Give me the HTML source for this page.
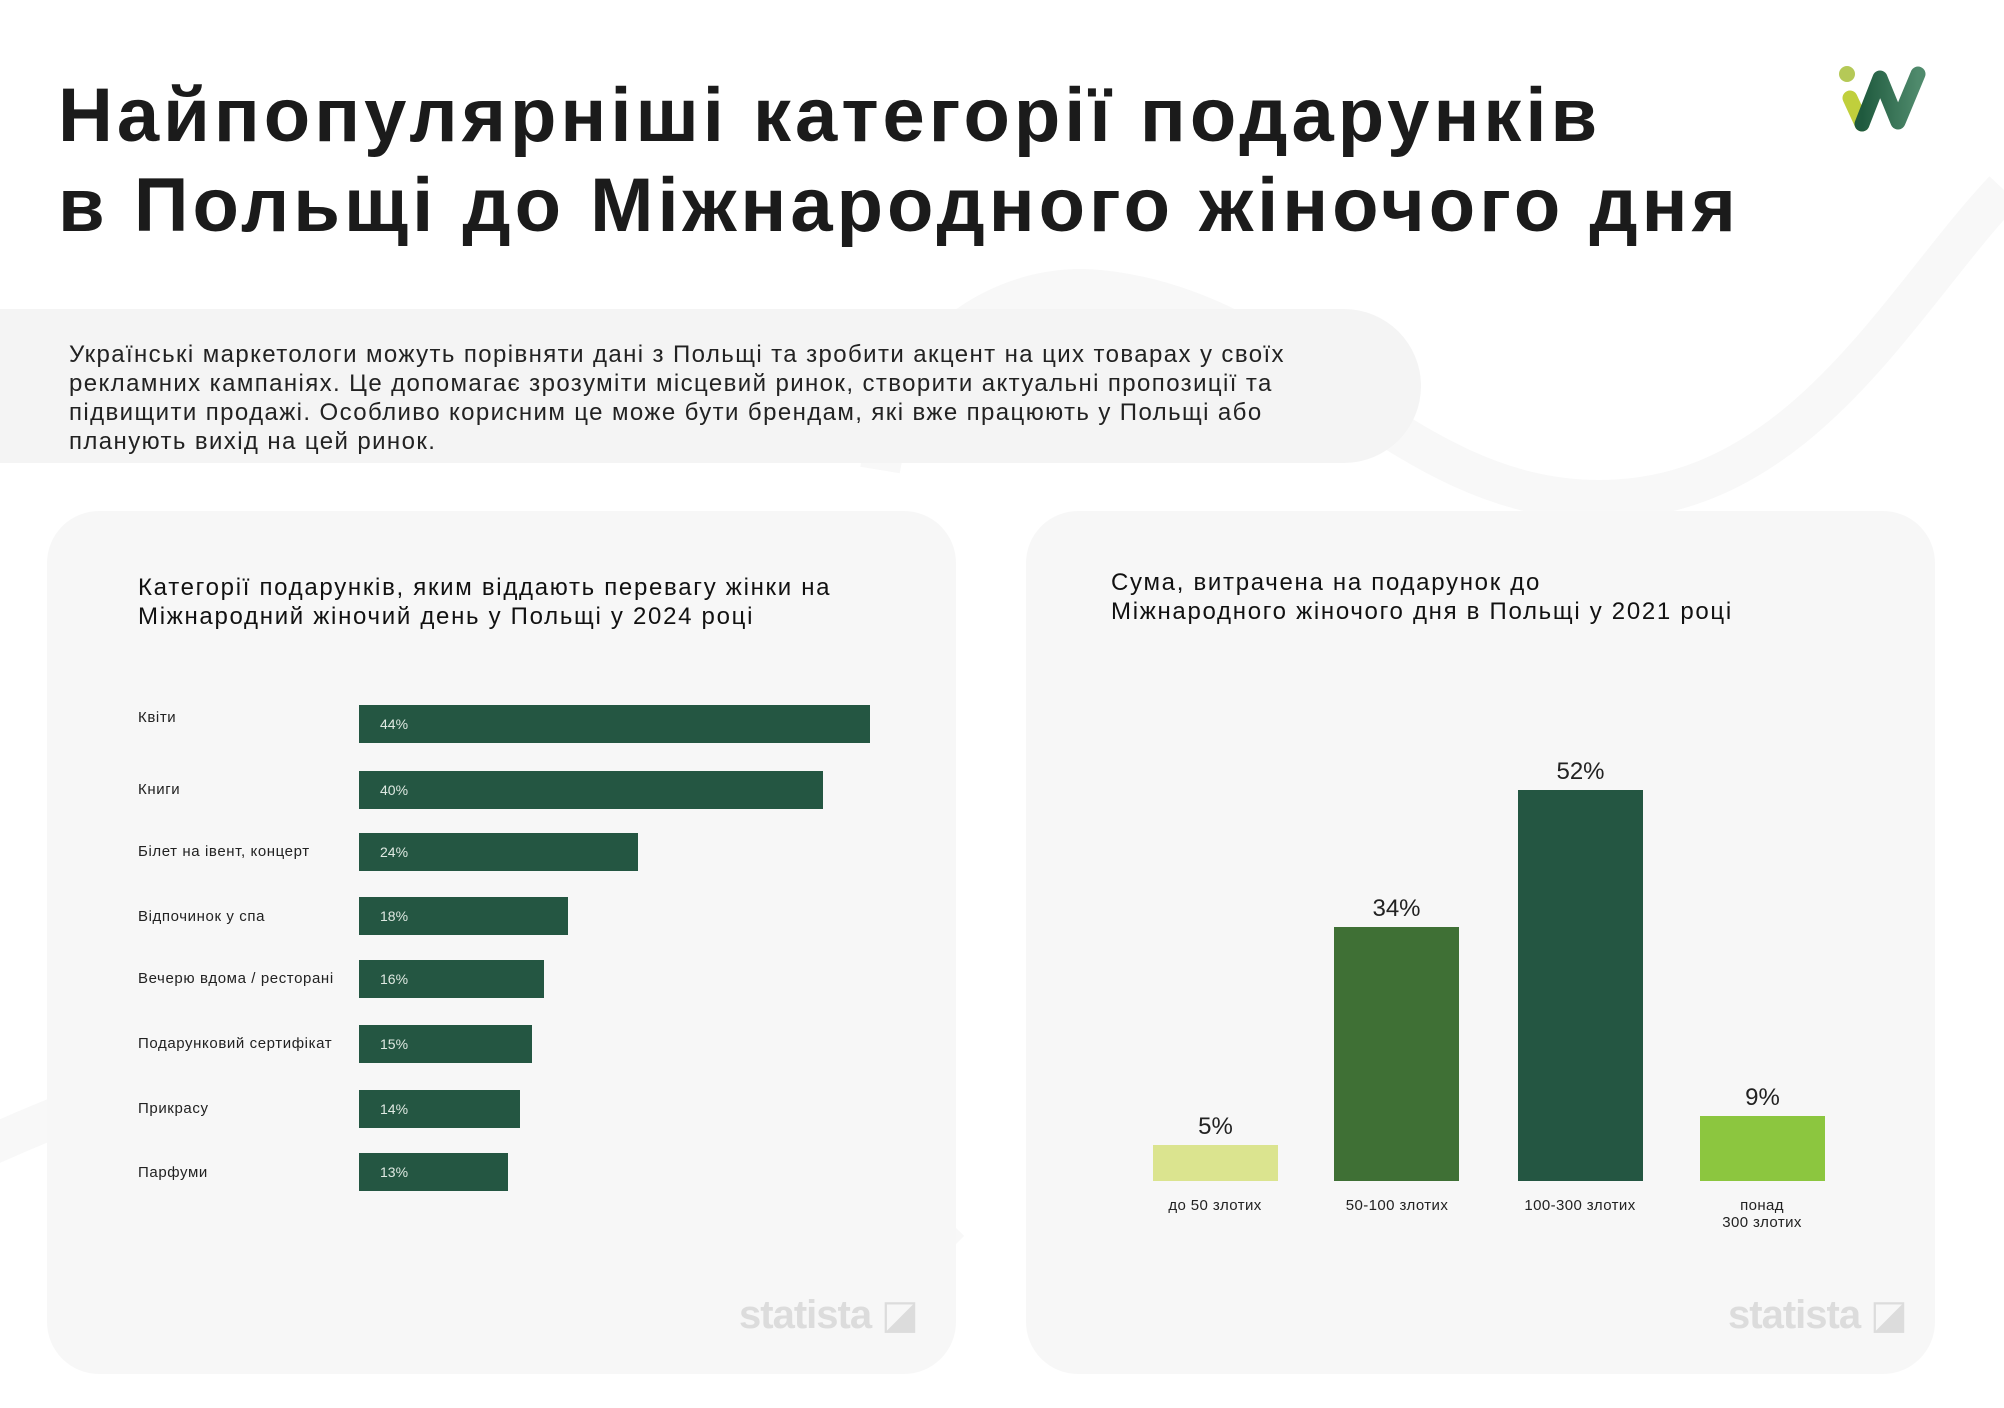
<!DOCTYPE html>
<html><head><meta charset="utf-8"><style>
*{margin:0;padding:0;box-sizing:border-box}
body{width:2004px;height:1408px;background:#fff;position:relative;overflow:hidden;font-family:"Liberation Sans","DejaVu Sans",sans-serif;color:#1c1c1c}
.a{position:absolute;white-space:nowrap}
.h1{font-size:76px;font-weight:bold;left:58px;letter-spacing:4px;color:#1b1b1b}
.band{position:absolute;left:0;top:309px;width:1421px;height:154px;background:#f4f4f4;border-radius:0 77px 77px 0}
.intro{left:69px;font-size:24px;line-height:29px;color:#222;letter-spacing:1.4px}
.card{position:absolute;top:511px;width:909px;height:863px;background:#f7f7f7;border-radius:52px}
.ct{font-size:24px;line-height:29px;color:#111;letter-spacing:1.7px}
.lbl{font-size:15px;color:#222;left:138px;letter-spacing:0.6px}
.bar{position:absolute;left:359px;height:38px;background:#245642}
.bar span{position:absolute;left:21px;top:11px;font-size:14px;color:#dfe9e2}
.vb{position:absolute;width:125px}
.val{font-size:24px;text-align:center;width:125px;color:#222}
.cat{font-size:15px;text-align:center;width:180px;line-height:17px;color:#222;letter-spacing:0.4px}
.st{font-size:40px;font-weight:bold;color:#dcdcdc;letter-spacing:-1px}
</style></head><body>
<svg class="a" style="left:0;top:0" width="2004" height="1408">
<path d="M-20 1150 C200 1050 400 1000 700 1080 C800 1110 900 1200 950 1250 M880 470 C900 350 1000 280 1100 290 C1300 310 1400 500 1600 500 C1800 500 1900 300 2004 190" stroke="#f8f8f8" stroke-width="40" fill="none"/>
</svg>
<div class="a h1" style="top:72px">Найпопулярніші категорії подарунків</div>
<div class="a h1" style="top:162px">в Польщі до Міжнародного жіночого дня</div>
<svg class="a" style="left:1838px;top:64px" width="100" height="70" viewBox="0 0 100 70">
<circle cx="9" cy="10" r="8" fill="#b5c957"/>
<path d="M12 34 L24 60" stroke="#c0cf3c" stroke-width="15" stroke-linecap="round"/>
<defs><linearGradient id="g" x1="0" x2="1"><stop offset="0" stop-color="#1f5a3e"/><stop offset="1" stop-color="#4f8a6c"/></linearGradient></defs>
<path d="M24 60 L42 14 L60 58 L80 10" stroke="url(#g)" stroke-width="15" fill="none" stroke-linecap="round" stroke-linejoin="round"/>
</svg>
<div class="band"></div>
<div class="a intro" style="top:340px">Українські маркетологи можуть порівняти дані з Польщі та зробити акцент на цих товарах у своїх<br>рекламних кампаніях. Це допомагає зрозуміти місцевий ринок, створити актуальні пропозиції та<br>підвищити продажі. Особливо корисним це може бути брендам, які вже працюють у Польщі або<br>планують вихід на цей ринок.</div>
<div class="card" style="left:47px"></div>
<div class="card" style="left:1026px"></div>
<div class="a ct" style="left:138px;top:573px">Категорії подарунків, яким віддають перевагу жінки на<br>Міжнародний жіночий день у Польщі у 2024 році</div>
<div class="a lbl" style="top:709px">Квіти</div>
<div class="a lbl" style="top:781px">Книги</div>
<div class="a lbl" style="top:843px">Білет на івент, концерт</div>
<div class="a lbl" style="top:908px">Відпочинок у спа</div>
<div class="a lbl" style="top:970px">Вечерю вдома / ресторані</div>
<div class="a lbl" style="top:1035px">Подарунковий сертифікат</div>
<div class="a lbl" style="top:1100px">Прикрасу</div>
<div class="a lbl" style="top:1164px">Парфуми</div>
<div class="bar" style="top:705px;width:511px"><span>44%</span></div>
<div class="bar" style="top:771px;width:464px"><span>40%</span></div>
<div class="bar" style="top:833px;width:279px"><span>24%</span></div>
<div class="bar" style="top:897px;width:209px"><span>18%</span></div>
<div class="bar" style="top:960px;width:185px"><span>16%</span></div>
<div class="bar" style="top:1025px;width:173px"><span>15%</span></div>
<div class="bar" style="top:1090px;width:161px"><span>14%</span></div>
<div class="bar" style="top:1153px;width:149px"><span>13%</span></div>
<div class="a st" style="left:739px;top:1292px">statista ◪</div>
<div class="a ct" style="left:1111px;top:568px">Сума, витрачена на подарунок до<br>Міжнародного жіночого дня в Польщі у 2021 році</div>
<div class="vb" style="left:1153px;top:1145px;height:36px;background:#dbe48f"></div>
<div class="vb" style="left:1334px;top:927px;height:254px;background:#3f7035"></div>
<div class="vb" style="left:1518px;top:790px;height:391px;background:#245642"></div>
<div class="vb" style="left:1700px;top:1116px;height:65px;background:#8cc63f"></div>
<div class="a val" style="left:1153px;top:1113px">5%</div>
<div class="a val" style="left:1334px;top:895px">34%</div>
<div class="a val" style="left:1518px;top:758px">52%</div>
<div class="a val" style="left:1700px;top:1084px">9%</div>
<div class="a cat" style="left:1125px;top:1197px">до 50 злотих</div>
<div class="a cat" style="left:1307px;top:1197px">50-100 злотих</div>
<div class="a cat" style="left:1490px;top:1197px">100-300 злотих</div>
<div class="a cat" style="left:1672px;top:1197px">понад<br>300 злотих</div>
<div class="a st" style="left:1728px;top:1292px">statista ◪</div>
</body></html>
